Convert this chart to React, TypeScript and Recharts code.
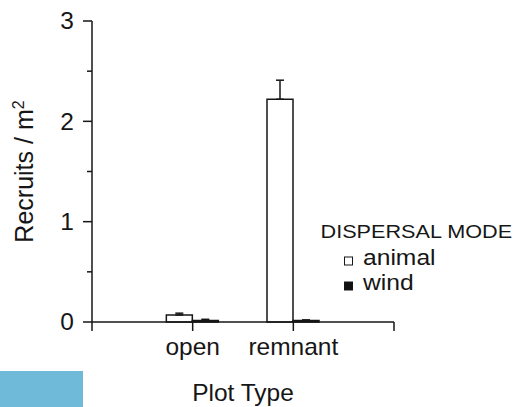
import { Bar, BarChart, ErrorBar, Label, Legend, XAxis, YAxis } from "recharts";

// recruit density (per m²) by plot type and seed dispersal mode
const plotTypes = ["open", "remnant"];
const plotPositions = [1, 2];
const animalMeans = [0.07, 2.22];
const animalSE = [0.018, 0.19];
const windMeans = [0.015, 0.015];
const windSE = [0.012, 0.006];
const xTicks = [0, 1, 2, 3];
const yTicks = [0, 0.5, 1, 1.5, 2, 2.5, 3];

const rows = plotTypes.map((type, i) => ({
  type,
  pos: plotPositions[i],
  animal: animalMeans[i],
  animalErr: [0, animalSE[i]],
  wind: windMeans[i],
  windErr: [0, windSE[i]],
}));

const FONT = '"Liberation Sans", Arial, Helvetica, sans-serif';
const INK = "#161616";

const xLabel = (v: number) => {
  const i = plotPositions.indexOf(v);
  return i >= 0 ? plotTypes[i] : "";
};

// text with a slightly wider set, like the original typeface
function WideText({ x, y, sx = 1.065, size = 23, anchor = "start", dy, children }: any) {
  return (
    <text
      transform={`translate(${x} ${y}) scale(${sx} 1)`}
      dy={dy}
      textAnchor={anchor}
      fontSize={size}
      fontFamily={FONT}
      fill={INK}
    >
      {children}
    </text>
  );
}

function YTick({ x, y, payload }: any) {
  const major = Number.isInteger(payload.value);
  return (
    <g>
      <line x1={x - (major ? 9 : 5)} x2={x} y1={y} y2={y} stroke={INK} strokeWidth={1.5} />
      {major && (
        <WideText x={x - 18} y={y} dy="0.36em" anchor="end">
          {payload.value}
        </WideText>
      )}
    </g>
  );
}

function XTick({ x, y, payload }: any) {
  return (
    <WideText x={x} y={y} dy="0.71em" anchor="middle">
      {xLabel(payload.value)}
    </WideText>
  );
}

function ModeLegend({ payload }: any) {
  return (
    <svg width={217} height={95} style={{ overflow: "visible" }}>
      <WideText x={20.5} y={27.5} size={19} sx={1.14}>
        DISPERSAL MODE
      </WideText>
      {(payload || []).map((entry: any, i: number) => (
        <g key={entry.value}>
          <rect x={44.5} y={47} width={8} height={8} transform={`translate(0 ${i * 25})`} fill={entry.color} stroke={INK} strokeWidth={1} />
          <WideText x={63} y={55 + i * 25} size={22} sx={1.12}>
            {entry.value}
          </WideText>
        </g>
      ))}
    </svg>
  );
}

export default function App() {
  return (
    <div style={{ position: "absolute", left: 0, top: 0, width: 517, height: 407, background: "#fff" }}>
      <BarChart
        width={517}
        height={407}
        data={rows}
        margin={{ top: 21, right: 123, bottom: 0, left: 0 }}
        barSize={26}
        barGap={0}
      >
        <XAxis
          dataKey="pos"
          type="number"
          domain={[0, 3]}
          ticks={xTicks}
          interval={0}
          height={85}
          axisLine={{ stroke: INK, strokeWidth: 1.5 }}
          tickLine={{ stroke: INK, strokeWidth: 1.5 }}
          tickSize={9}
          tickMargin={8}
          tick={<XTick />}
        >
          <Label
            content={({ viewBox }: any) => (
              <WideText x={viewBox.x + viewBox.width / 2} y={viewBox.y + 79} anchor="middle">
                Plot Type
              </WideText>
            )}
          />
        </XAxis>
        <YAxis
          type="number"
          domain={[0, 3]}
          ticks={yTicks}
          interval={0}
          width={92}
          axisLine={{ stroke: INK, strokeWidth: 1.5 }}
          tickLine={false}
          tickSize={0}
          tickMargin={0}
          tick={<YTick />}
        >
          <Label
            content={({ viewBox }: any) => {
              const lx = viewBox.x + 33;
              const ly = viewBox.y + viewBox.height / 2;
              return (
                <text
                  x={lx}
                  y={ly}
                  transform={`rotate(-90 ${lx} ${ly})`}
                  textAnchor="middle"
                  fontSize={25}
                  fontFamily={FONT}
                  fill={INK}
                >
                  <tspan>Recruits / m</tspan>
                  <tspan dy={-9} fontSize={16}>2</tspan>
                </text>
              );
            }}
          />
        </YAxis>
        <Legend
          layout="vertical"
          align="center"
          verticalAlign="middle"
          wrapperStyle={{ left: 300, top: 210, width: 217 }}
          content={<ModeLegend />}
        />
        <Bar dataKey="animal" name="animal" fill="#ffffff" stroke={INK} strokeWidth={1.5} isAnimationActive={false}>
          <ErrorBar dataKey="animalErr" width={4} stroke={INK} strokeWidth={1.5} direction="y" />
        </Bar>
        <Bar dataKey="wind" name="wind" fill="#111111" stroke={INK} strokeWidth={1.5} isAnimationActive={false}>
          <ErrorBar dataKey="windErr" width={4} stroke={INK} strokeWidth={1.5} direction="y" />
        </Bar>
      </BarChart>
      <div style={{ position: "absolute", left: 0, top: 371, width: 83, height: 36, background: "#70bad9" }} />
    </div>
  );
}
